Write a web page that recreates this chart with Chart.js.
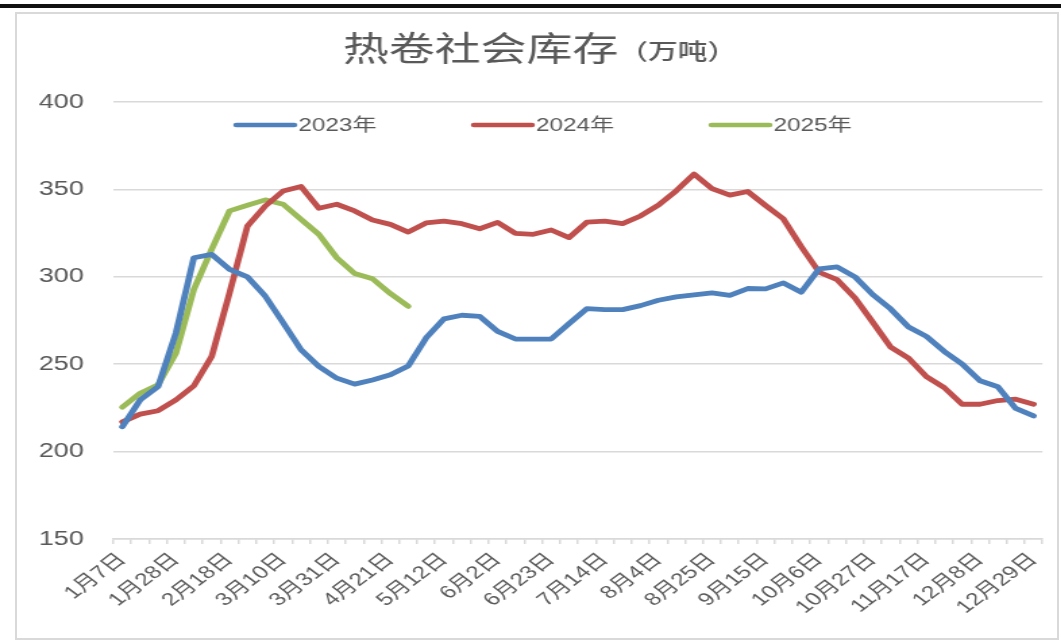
<!DOCTYPE html>
<html>
<head>
<meta charset="utf-8">
<script src="https://cdn.jsdelivr.net/npm/chart.js@4.4.1/dist/chart.umd.min.js"></script>
<style>
  body { margin: 0; background: #fff; }
  #topbar { position: absolute; left: 0; top: 4px; width: 1061px; height: 4px; background: #111; }
  #box { position: absolute; left: 15px; top: 12px; width: 1044px; height: 628px; border: 2px solid #d9d9d9; box-sizing: border-box; }
  /* the reference picture is stretched sideways, so the chart is drawn narrow and scaled */
  #wrap { position: absolute; left: 0; top: 0; width: 786px; height: 641px; transform: scaleX(1.35); transform-origin: 0 0; }
</style>
</head>
<body>
<div id="topbar"></div>
<div id="box"></div>
<div id="wrap"><canvas id="stockChart" width="786" height="641"></canvas></div>
<script>
const titleMain = '热卷社会库存';
const titleUnit = '（万吨）';

const weekLabels = [
  '1月7日', '1月14日', '1月21日', '1月28日', '2月4日', '2月11日', '2月18日', '2月25日',
  '3月3日', '3月10日', '3月17日', '3月24日', '3月31日', '4月7日', '4月14日', '4月21日',
  '4月28日', '5月5日', '5月12日', '5月19日', '5月26日', '6月2日', '6月9日', '6月16日',
  '6月23日', '6月30日', '7月7日', '7月14日', '7月21日', '7月28日', '8月4日', '8月11日',
  '8月18日', '8月25日', '9月1日', '9月8日', '9月15日', '9月22日', '9月29日', '10月6日',
  '10月13日', '10月20日', '10月27日', '11月3日', '11月10日', '11月17日', '11月24日', '12月1日',
  '12月8日', '12月15日', '12月22日', '12月29日'
];

const stock2023 = [
  214.2, 229.6, 237.2, 268, 310.9, 312.8, 304.2, 300, 288.9, 273.7, 258.3, 248.7, 242,
  238.6, 241, 243.9, 249, 265, 275.9, 278, 277.4, 268.8, 264.4, 264.4, 264.4, 273.2,
  281.8, 281.2, 281.2, 283.5, 286.6, 288.5, 289.7, 290.8, 289.4, 293.3, 293.1, 296.5, 291.2,
  304.6, 305.7, 300, 289.8, 281.6, 271.3, 265.9, 257.3, 250.1, 240.5, 237.1, 224.7, 220.4
];
const stock2024 = [
  217, 221.4, 223.4, 229.6, 237.6, 254.4, 290.8, 329, 340.5, 349.1, 351.7, 339.2, 341.5,
  337.7, 332.5, 330, 325.6, 330.8, 331.9, 330.4, 327.5, 331.1, 324.9, 324.3, 326.8, 322.4,
  331.3, 331.9, 330.4, 334.8, 341, 349.2, 358.8, 350.5, 346.7, 348.8, 340.8, 333.1, 317.2,
  302.6, 298.4, 287.9, 274, 259.8, 253.5, 242.9, 236.6, 227.1, 227.1, 229.2, 230, 227.1
];
const stock2025 = [
  225.4, 233.4, 238.2, 256.4, 292.7, 315.7, 337.7, 340.9, 344, 341.5, 332.9, 324.3,
  310.9, 301.9, 298.9, 290.4, 283.1
];

const seriesNames = ['2023年', '2024年', '2025年'];
const seriesColors = ['#4f81bd', '#c0504d', '#9bbb59'];

const textColor = '#595959';
const fontFamily = '"Liberation Sans", "Noto Sans CJK SC", sans-serif';

const titlePlugin = {
  id: 'titleText',
  afterDraw(chart) {
    const ctx = chart.ctx;
    ctx.save();
    ctx.fillStyle = textColor;
    ctx.textBaseline = 'middle';
    ctx.textAlign = 'left';
    ctx.font = '34px "Noto Sans CJK SC"';
    const w1 = ctx.measureText(titleMain).width;
    ctx.font = '500 22px "Noto Sans CJK SC"';
    const w2 = ctx.measureText(titleUnit).width;
    const x = 400 - (w1 + w2) / 2;
    ctx.font = '34px "Noto Sans CJK SC"';
    ctx.fillText(titleMain, x, 48);
    ctx.font = '500 22px "Noto Sans CJK SC"';
    ctx.fillText(titleUnit, x + w1, 51);
    ctx.restore();
  }
};

const legendPlugin = {
  id: 'innerLegend',
  afterDraw(chart) {
    const ctx = chart.ctx;
    ctx.save();
    ctx.font = '18px ' + fontFamily;
    ctx.textBaseline = 'middle';
    chart.data.datasets.forEach((ds, i) => {
      const x = 175 + i * 176;
      const y = 125;
      ctx.strokeStyle = ds.borderColor;
      ctx.lineWidth = 4.5;
      ctx.lineCap = 'round';
      ctx.beginPath();
      ctx.moveTo(x, y);
      ctx.lineTo(x + 43, y);
      ctx.stroke();
      ctx.fillStyle = textColor;
      ctx.fillText(ds.label, x + 46, y + 1);
    });
    ctx.restore();
  }
};

const makeSet = (i, values) => ({
  label: seriesNames[i],
  data: values,
  borderColor: seriesColors[i],
  backgroundColor: seriesColors[i],
  borderWidth: 4.8,
  borderJoinStyle: 'round',
  borderCapStyle: 'round',
  pointRadius: 0,
  tension: 0,
  fill: false
});

new Chart(document.getElementById('stockChart').getContext('2d'), {
  type: 'line',
  data: {
    labels: weekLabels,
    datasets: [makeSet(0, stock2023), makeSet(1, stock2024), makeSet(2, stock2025)]
  },
  options: {
    responsive: false,
    animation: false,
    layout: { padding: { top: 102, right: 12, left: 0, bottom: 0 } },
    plugins: {
      legend: { display: false },
      title: { display: false },
      tooltip: { enabled: false }
    },
    scales: {
      x: {
        offset: true,
        grid: { offset: true, drawOnChartArea: false, tickLength: 5, color: '#d9d9d9', lineWidth: 1.5 },
        border: { display: true, color: '#d9d9d9', width: 1.5 },
        ticks: {
          autoSkip: false,
          minRotation: 45,
          maxRotation: 45,
          padding: 5,
          color: textColor,
          font: { family: fontFamily, size: 18 },
          callback: (v, i) => (i % 3 === 0 ? weekLabels[i] : '')
        },
        afterFit(scale) { scale.height = 102; }
      },
      y: {
        min: 150,
        max: 400,
        grid: { color: '#d9d9d9', lineWidth: 1.5, drawTicks: false },
        border: { display: false },
        ticks: {
          stepSize: 50,
          padding: 22,
          color: textColor,
          font: { family: fontFamily, size: 20 }
        },
        afterFit(scale) { scale.width = 84; }
      }
    }
  },
  plugins: [titlePlugin, legendPlugin]
});
</script>
</body>
</html>
